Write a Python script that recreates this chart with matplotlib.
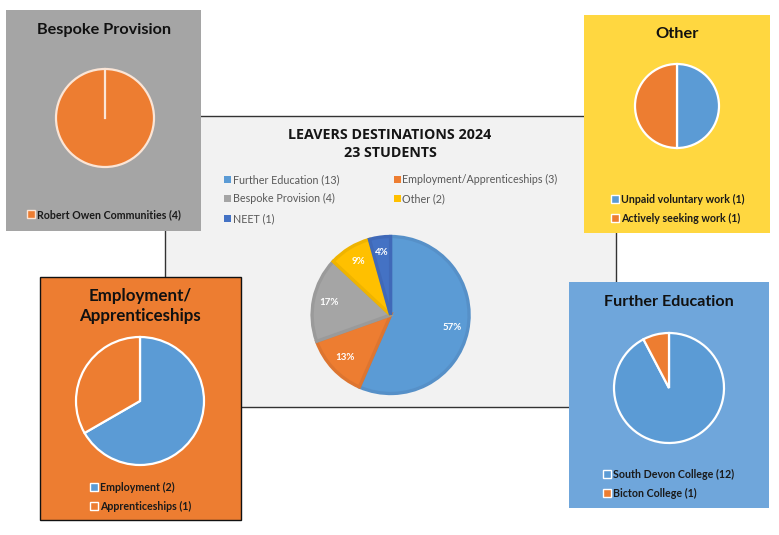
import matplotlib
matplotlib.use("Agg")
import matplotlib.pyplot as plt
from matplotlib.patches import Rectangle

W, H = 779, 535

BLUE, ORANGE, GREY, GOLD, NAVY = "#5B9BD5", "#ED7D31", "#A5A5A5", "#FFC000", "#4472C4"
EDGES = ["#5690C8", "#DD7530", "#9A9A9A", "#EFB400", "#4069B8"]

main_labels = ["Further Education (13)", "Employment/Apprenticeships (3)", "Bespoke Provision (4)", "Other (2)", "NEET (1)"]
main_values = [13, 3, 4, 2, 1]
main_colors = [BLUE, ORANGE, GREY, GOLD, NAVY]

bespoke_labels = ["Robert Owen Communities (4)"]
bespoke_values = [4]
other_labels = ["Unpaid voluntary work (1)", "Actively seeking work (1)"]
other_values = [1, 1]
emp_labels = ["Employment (2)", "Apprenticeships (1)"]
emp_values = [2, 1]
fe_labels = ["South Devon College (12)", "Bicton College (1)"]
fe_values = [12, 1]

fig = plt.figure(figsize=(W / 100, H / 100), dpi=100, facecolor="white")
bg = fig.add_axes([0, 0, 1, 1])
bg.set_xlim(0, W)
bg.set_ylim(H, 0)
bg.axis("off")


def box(x0, y0, x1, y1, face, edge="none", lw=0):
    bg.add_patch(Rectangle((x0, y0), x1 - x0, y1 - y0, facecolor=face, edgecolor=edge, linewidth=lw))


def pie_axes(cx, cy, r):
    pad = 1.08
    hw = r * pad
    ax = fig.add_axes([(cx - hw) / W, 1 - (cy + hw) / H, 2 * hw / W, 2 * hw / H])
    ax.patch.set_alpha(0)
    return ax, pad


def side_panel(rect, face, title, title_xy, title_size, center, r, values, colors, labels,
               leg_xy, edge_colors=None, rect_edge="none", fs=7.7, spacing=0.72, linespacing=1.05):
    box(*rect, face, edge=rect_edge, lw=1 if rect_edge != "none" else 0)
    bg.text(title_xy[0], title_xy[1], title, ha="center", va="center", family="Lato",
            fontweight="bold", fontsize=title_size, color="#111111", linespacing=linespacing)
    ax, pad = pie_axes(*center, r)
    wedges, _ = ax.pie(values, colors=colors, startangle=90, counterclock=False, radius=1,
                       wedgeprops=dict(edgecolor="white", linewidth=1.6))
    if edge_colors:
        for w, c in zip(wedges, edge_colors):
            w.set_edgecolor(c)
    ax.set_xlim(-pad, pad)
    ax.set_ylim(-pad, pad)
    leg = ax.legend(wedges, labels, loc="upper left", bbox_to_anchor=leg_xy, bbox_transform=bg.transData,
                    frameon=False, borderpad=0, borderaxespad=0, handlelength=0.75, handleheight=0.75,
                    handletextpad=0.15, labelspacing=spacing,
                    prop=dict(family="Lato", weight="bold", size=fs))
    for t in leg.get_texts():
        t.set_color("#1a1a1a")
    for h in leg.get_patches():
        h.set_linewidth(1.0)
    return ax


# Central chart panel
box(165, 116, 616, 407, "#F2F2F2", edge="#333333", lw=1)
bg.text(390, 144, "LEAVERS DESTINATIONS 2024\n23 STUDENTS", ha="center", va="center",
        family="Open Sans", fontweight="bold", fontsize=10.3, color="#151515", linespacing=1.4)

ax, pad = pie_axes(390.6, 315, 78.5)
wedges, _, autotexts = ax.pie(main_values, colors=main_colors, startangle=90, counterclock=False, radius=1,
                              autopct="%.0f%%", pctdistance=0.8,
                              wedgeprops=dict(linewidth=2.4),
                              textprops=dict(family="Lato", fontweight="bold", fontsize=7, color="white"))
for w, c in zip(wedges, EDGES):
    w.set_edgecolor(c)
ax.set_xlim(-pad, pad)
ax.set_ylim(-pad, pad)
order = [0, 2, 4, 1, 3]
leg = ax.legend([wedges[i] for i in order], [main_labels[i] for i in order], ncols=2,
                loc="upper left", bbox_to_anchor=(224.5, 174), bbox_transform=bg.transData,
                frameon=False, borderpad=0, borderaxespad=0, handlelength=0.65, handleheight=0.65,
                handletextpad=0.1, labelspacing=0.78, columnspacing=5.1,
                prop=dict(family="Lato", size=7.75))
for t in leg.get_texts():
    t.set_color("#595959")
for h in leg.get_patches():
    h.set_linewidth(0)

bespoke_ax = side_panel((6, 10, 201, 231), GREY, "Bespoke Provision", (104, 30), 11.7, (105, 118), 49,
                        bespoke_values, [ORANGE], bespoke_labels, (27, 209), edge_colors=["#FBE5D6"])
bespoke_ax.plot([0, 0], [0, 1], color="#FBE5D6", linewidth=1.6)
side_panel((584, 15, 770, 233), "#FFD740", "Other", (677, 34), 11.8, (677, 106), 42,
           other_values, [BLUE, ORANGE], other_labels, (611, 194))
side_panel((40, 277, 241, 520), ORANGE, "Employment/\nApprenticeships", (140, 306), 12.2, (140, 401), 64,
           emp_values, [BLUE, ORANGE], emp_labels, (90, 482), rect_edge="#111111", linespacing=1.25)
side_panel((569, 282, 769, 508), "#6FA6DB", "Further Education", (669, 302), 11.6, (669, 388), 55,
           fe_values, [BLUE, ORANGE], fe_labels, (603, 469))

fig.savefig("out.png", dpi=100, facecolor="white")
